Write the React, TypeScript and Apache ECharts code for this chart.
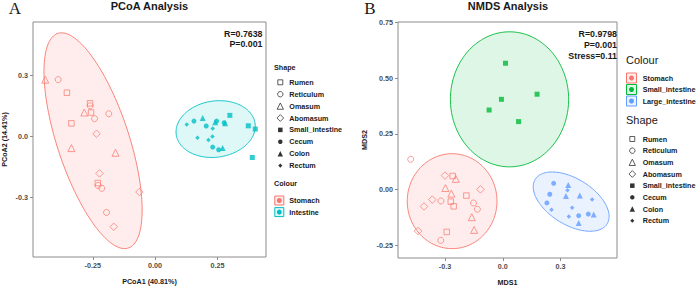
import React, { useEffect, useRef } from "react";
import * as echarts from "echarts";

const FONT = "'Liberation Sans', Arial, Helvetica, sans-serif";

// ---------- data ----------
const shapeNames = ["Rumen", "Reticulum", "Omasum", "Abomasum", "Small_intestine", "Cecum", "Colon", "Rectum"];

// PCoA: [PCoA1, PCoA2, shape]
const pcoaStomach: [number, number, string][] = [
  [-0.354, 0.214, "Rumen"], [-0.261, 0.162, "Rumen"], [-0.257, 0.117, "Rumen"], [-0.336, 0.064, "Rumen"], [-0.230, -0.228, "Rumen"],
  [-0.389, 0.278, "Reticulum"], [-0.261, 0.150, "Reticulum"], [-0.186, 0.111, "Reticulum"], [-0.243, 0.087, "Reticulum"],
  [-0.229, -0.240, "Reticulum"], [-0.214, -0.254, "Reticulum"], [-0.195, -0.372, "Reticulum"],
  [-0.441, 0.278, "Omasum"], [-0.284, 0.117, "Omasum"], [-0.336, -0.057, "Omasum"], [-0.159, -0.080, "Omasum"],
  [-0.235, 0.013, "Abomasum"], [-0.223, -0.181, "Abomasum"], [-0.063, -0.272, "Abomasum"], [-0.166, -0.442, "Abomasum"],
];
const pcoaIntestine: [number, number, string][] = [
  [0.300, 0.103, "Small_intestine"], [0.374, 0.052, "Small_intestine"], [0.402, 0.036, "Small_intestine"], [0.390, -0.103, "Small_intestine"],
  [0.156, 0.075, "Cecum"], [0.205, 0.051, "Cecum"], [0.247, 0.075, "Cecum"], [0.277, 0.067, "Cecum"], [0.231, -0.052, "Cecum"], [0.255, -0.065, "Cecum"],
  [0.191, 0.090, "Colon"], [0.241, 0.069, "Colon"], [0.281, 0.064, "Colon"], [0.271, -0.057, "Colon"],
  [0.127, 0.059, "Rectum"], [0.231, 0.039, "Rectum"], [0.170, -0.006, "Rectum"], [0.214, -0.018, "Rectum"], [0.230, 0.000, "Rectum"],
];

// NMDS: [MDS1, MDS2, shape]
const nmdsStomach: [number, number, string][] = [
  [-0.260, 0.061, "Rumen"], [-0.189, -0.027, "Rumen"], [-0.270, -0.054, "Rumen"], [-0.255, -0.075, "Rumen"], [-0.291, -0.190, "Rumen"],
  [-0.478, 0.136, "Reticulum"], [-0.321, -0.051, "Reticulum"], [-0.152, -0.060, "Reticulum"], [-0.132, -0.088, "Reticulum"], [-0.322, -0.228, "Reticulum"],
  [-0.244, 0.048, "Omasum"], [-0.298, 0.007, "Omasum"], [-0.267, -0.018, "Omasum"], [-0.161, -0.124, "Omasum"], [-0.149, -0.181, "Omasum"],
  [-0.300, 0.063, "Abomasum"], [-0.116, 0.001, "Abomasum"], [-0.366, -0.045, "Abomasum"], [-0.409, -0.076, "Abomasum"], [-0.440, -0.186, "Abomasum"],
];
const nmdsSmallIntestine: [number, number, string][] = [
  [0.014, 0.567, "Small_intestine"], [0.178, 0.428, "Small_intestine"], [-0.007, 0.405, "Small_intestine"],
  [-0.071, 0.357, "Small_intestine"], [0.082, 0.305, "Small_intestine"],
];
const nmdsLargeIntestine: [number, number, string][] = [
  [0.264, 0.028, "Cecum"], [0.244, -0.021, "Cecum"], [0.229, -0.060, "Cecum"], [0.444, -0.110, "Cecum"], [0.394, -0.117, "Cecum"],
  [0.340, 0.021, "Colon"], [0.328, -0.029, "Colon"], [0.400, -0.026, "Colon"], [0.472, -0.112, "Colon"], [0.394, -0.150, "Colon"],
  [0.336, -0.003, "Rectum"], [0.464, -0.044, "Rectum"], [0.360, -0.081, "Rectum"], [0.253, -0.090, "Rectum"], [0.343, -0.121, "Rectum"],
];

// confidence ellipses: [centre x, centre y, half-width x, half-height y, correlation]
const pcoaEllipses = [
  [-0.249, -0.021, 0.197, 0.528, -0.642],
  [0.243, 0.036, 0.159, 0.139, 0.1],
];
const nmdsEllipses = [
  [-0.263, -0.052, 0.233, 0.213, 0.0],
  [0.035, 0.405, 0.307, 0.303, 0.0],
  [0.355, -0.054, 0.197, 0.133, -0.5],
];

const pcoaXTicks = [-0.25, 0, 0.25];
const pcoaYTicks = [-0.3, 0, 0.3];
const nmdsXTicks = [-0.3, 0, 0.3];
const nmdsYTicks = [-0.25, 0, 0.25, 0.5, 0.75];

const pcoaAxisNames = ["PCoA1 (40.81%)", "PCoA2 (14.41%)"];
const nmdsAxisNames = ["MDS1", "MDS2"];
const pcoaStats = ["R=0.7638", "P=0.001"];
const nmdsStats = ["R=0.9798", "P=0.001", "Stress=0.11"];

const pcoaColourNames = ["Stomach", "Intestine"];
const nmdsColourNames = ["Stomach", "Small_intestine", "Large_intestine"];

// ---------- styles ----------
const RED = "#F8766D";
const TEAL = "#00BFC4";
const GREEN = "#00BA38";
const BLUE = "#619CFF";
const pcoaColours = [RED, TEAL];
const nmdsColours = [RED, GREEN, BLUE];
const AXIS_GREY = "#8c8c8c";
const TICK_TEXT = "#4d4d4d";
const SMALL = 7.2;

const shapeStyle: Record<string, { symbol: string; size: number; open: boolean }> = {
  Rumen: { symbol: "rect", size: 5.5, open: true },
  Reticulum: { symbol: "circle", size: 6, open: true },
  Omasum: { symbol: "triangle", size: 7, open: true },
  Abomasum: { symbol: "diamond", size: 7.5, open: true },
  Small_intestine: { symbol: "rect", size: 5, open: false },
  Cecum: { symbol: "circle", size: 5, open: false },
  Colon: { symbol: "triangle", size: 6, open: false },
  Rectum: { symbol: "diamond", size: 4.5, open: false },
};

function hexToRgba(hex: string, a: number) {
  const n = parseInt(hex.slice(1), 16);
  return `rgba(${(n >> 16) & 255},${(n >> 8) & 255},${n & 255},${a})`;
}

function scatterSeries(points: [number, number, string][], color: string, gi: number) {
  return {
    type: "scatter",
    xAxisIndex: gi,
    yAxisIndex: gi,
    z: 3,
    silent: true,
    data: points.map(([x, y, s]) => {
      const st = shapeStyle[s];
      return {
        value: [x, y],
        symbol: st.symbol,
        symbolSize: st.size,
        itemStyle: st.open
          ? { color: "rgba(0,0,0,0)", borderColor: color, borderWidth: 0.9 }
          : { color, borderWidth: 0 },
      };
    }),
  };
}

function ellipseSeries(list: number[][], colors: string[], gi: number) {
  return {
    type: "custom",
    xAxisIndex: gi,
    yAxisIndex: gi,
    z: 1,
    silent: true,
    data: list,
    renderItem: (params: any, api: any) => {
      const cx = api.value(0), cy = api.value(1), rx = api.value(2), ry = api.value(3), rho = api.value(4);
      const s = Math.sqrt(1 - rho * rho);
      const pts: number[][] = [];
      const N = 160;
      for (let i = 0; i < N; i++) {
        const t = (2 * Math.PI * i) / N;
        pts.push(api.coord([cx + rx * Math.cos(t), cy + ry * (rho * Math.cos(t) + s * Math.sin(t))]));
      }
      const c = colors[params.dataIndex];
      return {
        type: "polygon",
        shape: { points: pts },
        style: { fill: hexToRgba(c, 0.13), stroke: c, lineWidth: 0.9 },
      };
    },
  };
}

function axisCommon(ticks: number[], digits: number) {
  return {
    type: "value",
    axisLine: { show: false, onZero: false },
    axisTick: { show: true, length: 3, lineStyle: { color: AXIS_GREY, width: 1 }, customValues: ticks },
    axisLabel: {
      customValues: ticks,
      formatter: (v: number) => v.toFixed(digits),
      fontSize: SMALL,
      fontWeight: "bold",
      color: TICK_TEXT,
      fontFamily: FONT,
      margin: 5,
      hideOverlap: false,
    },
    splitLine: { show: false },
  };
}

function text(str: string, x: number, y: number, size: number, weight: string, align = "left", family = FONT, fill = "#1a1a1a") {
  return {
    type: "text",
    silent: true,
    style: {
      text: str,
      x,
      y,
      fontSize: size,
      fontWeight: weight,
      fontFamily: family,
      fill,
      textAlign: align,
      textVerticalAlign: "middle",
    },
  };
}

function vtext(str: string, x: number, y: number, size: number) {
  return {
    type: "text",
    silent: true,
    x,
    y,
    rotation: Math.PI / 2,
    style: {
      text: str,
      x: 0,
      y: 0,
      fontSize: size,
      fontWeight: "bold",
      fontFamily: FONT,
      fill: "#1a1a1a",
      textAlign: "center",
      textVerticalAlign: "middle",
    },
  };
}

function symbolGraphic(name: string, cx: number, cy: number, color: string) {
  const st = shapeStyle[name];
  const s = st.size * 0.9;
  const style = st.open
    ? { fill: "none", stroke: color, lineWidth: 0.8 }
    : { fill: color, stroke: "none" };
  if (st.symbol === "rect") return { type: "rect", silent: true, shape: { x: cx - s / 2, y: cy - s / 2, width: s, height: s }, style };
  if (st.symbol === "circle") return { type: "circle", silent: true, shape: { cx, cy, r: s / 2 }, style };
  if (st.symbol === "triangle")
    return { type: "polygon", silent: true, shape: { points: [[cx, cy - s / 2], [cx + s / 2, cy + s / 2], [cx - s / 2, cy + s / 2]] }, style };
  return { type: "polygon", silent: true, shape: { points: [[cx, cy - s / 2], [cx + s / 2, cy], [cx, cy + s / 2], [cx - s / 2, cy]] }, style };
}

function shapeLegend(x: number, y0: number, step: number, labelX: number) {
  const out: any[] = [];
  shapeNames.forEach((n, i) => {
    const y = y0 + i * step;
    out.push(symbolGraphic(n, x, y, "#333"));
    out.push(text(n, labelX, y, SMALL, "bold"));
  });
  return out;
}

function colourLegend(names: string[], colors: string[], x: number, y0: number, step: number, box: number, labelX: number) {
  const out: any[] = [];
  names.forEach((n, i) => {
    const y = y0 + i * step;
    out.push({
      type: "rect",
      silent: true,
      shape: { x: x - box / 2, y: y - box / 2, width: box, height: box },
      style: { fill: hexToRgba(colors[i], 0.13), stroke: colors[i], lineWidth: 1 },
    });
    out.push({ type: "circle", silent: true, shape: { cx: x, cy: y, r: 2.5 }, style: { fill: colors[i] } });
    out.push(text(n, labelX, y, SMALL, "bold"));
  });
  return out;
}

export default function App() {
  const ref = useRef<HTMLDivElement>(null);
  useEffect(() => {
    if (!ref.current) return;
    const chart = echarts.init(ref.current, null, { renderer: "svg" });

    const graphics: any[] = [
      text("A", 15, 8, 17, "normal", "center", "'Liberation Serif', 'Times New Roman', serif"),
      text("B", 370, 8, 17, "normal", "center", "'Liberation Serif', 'Times New Roman', serif"),
      text("PCoA Analysis", 149.5, 6, 11, "bold", "center"),
      text("NMDS Analysis", 508, 6, 11, "bold", "center"),
      text(pcoaAxisNames[0], 149.5, 281.5, SMALL, "bold", "center"),
      vtext(pcoaAxisNames[1], 4.5, 139.5, SMALL),
      text(nmdsAxisNames[0], 507.5, 282, SMALL, "bold", "center"),
      vtext(nmdsAxisNames[1], 364, 140, SMALL),
      ...pcoaStats.map((s, i) => text(s, 262.5, 33.5 + i * 10.5, 8.8, "bold", "right")),
      ...nmdsStats.map((s, i) => text(s, 617, 33.5 + i * 11.3, 8.8, "bold", "right")),
      text("Shape", 274, 67, SMALL, "bold"),
      ...shapeLegend(280.3, 82.3, 11.9, 289.3),
      text("Colour", 274, 183.5, SMALL, "bold"),
      ...colourLegend(pcoaColourNames, pcoaColours, 279.3, 200.5, 11.6, 9, 289.3),
      text("Colour", 626, 59.5, 11, "normal"),
      ...colourLegend(nmdsColourNames, nmdsColours, 631.5, 78, 11.5, 10, 642.7),
      text("Shape", 626, 120, 11, "normal"),
      ...shapeLegend(632.3, 139, 11.67, 642.7),
    ];

    const option: any = {
      animation: false,
      backgroundColor: "#fff",
      grid: [
        { left: 33, top: 22, width: 233, height: 235, show: true, borderColor: AXIS_GREY, borderWidth: 1, backgroundColor: "transparent" },
        { left: 398, top: 22, width: 219, height: 236, show: true, borderColor: AXIS_GREY, borderWidth: 1, backgroundColor: "transparent" },
      ],
      xAxis: [
        { ...axisCommon(pcoaXTicks, 2), gridIndex: 0, min: -0.49, max: 0.445 },
        { ...axisCommon(nmdsXTicks, 1), gridIndex: 1, min: -0.544, max: 0.593 },
      ],
      yAxis: [
        { ...axisCommon(pcoaYTicks, 1), gridIndex: 0, min: -0.59, max: 0.56 },
        { ...axisCommon(nmdsYTicks, 2), gridIndex: 1, min: -0.307, max: 0.752 },
      ],
      series: [
        ellipseSeries(pcoaEllipses, pcoaColours, 0),
        ellipseSeries(nmdsEllipses, nmdsColours, 1),
        scatterSeries(pcoaStomach, RED, 0),
        scatterSeries(pcoaIntestine, TEAL, 0),
        scatterSeries(nmdsStomach, RED, 1),
        scatterSeries(nmdsSmallIntestine, GREEN, 1),
        scatterSeries(nmdsLargeIntestine, BLUE, 1),
      ],
      graphic: { elements: graphics },
    };
    chart.setOption(option);
    return () => chart.dispose();
  }, []);
  return <div ref={ref} style={{ position: "fixed", left: 0, top: 0, width: 696, height: 287 }} />;
}
